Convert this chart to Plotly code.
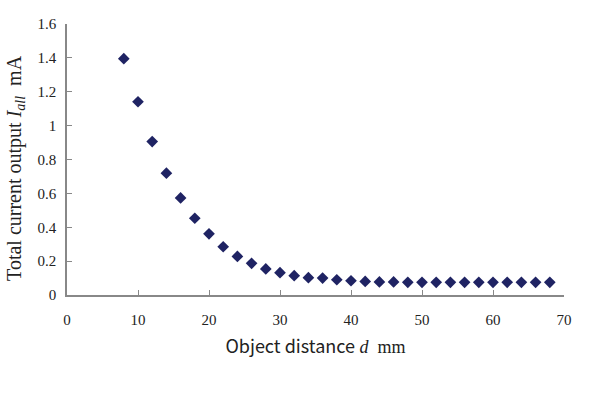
import plotly.graph_objects as go

distance_mm = [8, 10, 12, 14, 16, 18, 20, 22, 24, 26, 28, 30, 32, 34, 36, 38, 40,
               42, 44, 46, 48, 50, 52, 54, 56, 58, 60, 62, 64, 66, 68]
current_mA = [1.395, 1.141, 0.906, 0.719, 0.573, 0.453, 0.361, 0.285, 0.228, 0.187,
              0.154, 0.132, 0.114, 0.102, 0.100, 0.090, 0.084, 0.080, 0.077, 0.077,
              0.075, 0.075, 0.075, 0.075, 0.075, 0.075, 0.075, 0.075, 0.075, 0.075, 0.075]
x_ticks = [0, 10, 20, 30, 40, 50, 60, 70]
y_ticks = [0, 0.2, 0.4, 0.6, 0.8, 1, 1.2, 1.4, 1.6]

fig = go.Figure()
fig.add_trace(go.Scatter(
    x=distance_mm, y=current_mA, mode="markers",
    marker=dict(symbol="diamond", size=9, color="#1f2363"),
    showlegend=False,
))

tick_font = dict(family="Liberation Serif, Times New Roman, serif", size=15, color="#222222")
axis_common = dict(
    showline=True, linecolor="#888888", linewidth=1.5,
    showgrid=False, zeroline=False,
    ticks="inside", ticklen=5, tickcolor="#888888", tickwidth=1,
    tickfont=tick_font,
)

fig.update_layout(
    width=590, height=401,
    margin=dict(l=67, r=26, t=24, b=106),
    plot_bgcolor="white", paper_bgcolor="white",
    xaxis=dict(range=[0, 70], tickvals=x_ticks, ticktext=[str(v) for v in x_ticks],
               ticklabelstandoff=10,
               title=dict(text="<span style='font-family:Noto Sans CJK JP'>Object distance</span> <i>d</i>  mm",
                          font=dict(family="Liberation Serif, serif", size=18, color="#222222"),
                          standoff=14),
               **axis_common),
    yaxis=dict(range=[0, 1.6], tickvals=y_ticks, ticktext=[f"{v:g}" for v in y_ticks],
               ticklabelstandoff=6,
               **axis_common),
    annotations=[dict(
        text="Total current output <i>I<sub>all</sub></i>  mA",
        xref="paper", yref="paper", x=-0.1026, y=0.469,
        xanchor="center", yanchor="middle", textangle=-90, showarrow=False,
        font=dict(family="Liberation Serif, serif", size=20, color="#222222"),
    )],
)

fig.write_html("out.html")
